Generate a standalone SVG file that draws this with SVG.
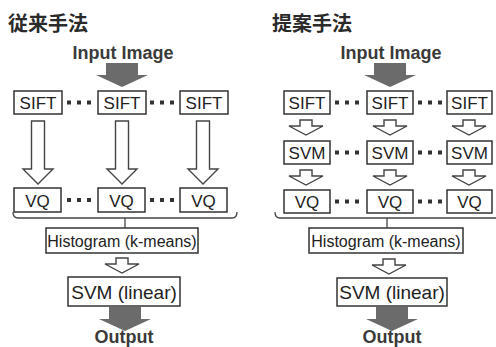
<svg xmlns="http://www.w3.org/2000/svg" width="496" height="347" viewBox="0 0 496 347">
<style>
.box{fill:#fff;stroke:#333;stroke-width:1.5}
.t{font-family:"Liberation Sans",Arial,sans-serif;font-size:17px;fill:#222;text-anchor:middle}
.th{font-family:"Liberation Sans",Arial,sans-serif;font-size:16px;fill:#222;text-anchor:middle}
.tl{font-family:"Liberation Sans",Arial,sans-serif;font-size:19px;fill:#222;text-anchor:middle}
.b{font-family:"Liberation Sans",Arial,sans-serif;font-size:18px;font-weight:bold;fill:#3a3a3a;text-anchor:middle}
.title{font-family:"Noto Sans CJK JP","Noto Sans CJK SC",sans-serif;font-size:20px;font-weight:bold;fill:#2a2a2a}
.dot{fill:#333}
.hollow{fill:#fff;stroke:#444;stroke-width:1.4;stroke-linejoin:miter}
.solid{fill:#6b6b6b}
.brace{fill:none;stroke:#444;stroke-width:1.3}
</style>
<defs>
<polygon id="bigHollow" points="-6.5,0 6.5,0 6.5,48 15,48 0,63 -15,48 -6.5,48"/>
<polygon id="smallHollow" points="-6,0 6,0 6,6 17,6 0,15 -17,6 -6,6"/>
<polygon id="grayArrow" points="-16,0 16,0 16,12 26,12 0,24 -26,12 -16,12"/>
<g id="dots"><rect x="0" y="-2" width="4" height="4"/><rect x="10" y="-2" width="4" height="4"/><rect x="20" y="-2" width="4" height="4"/></g>
</defs>

<!-- Titles -->
<text class="title" x="8" y="31">従来手法</text>
<text class="title" x="272" y="31">提案手法</text>

<!-- ===== Left panel: conventional ===== -->
<g id="left-input"><text class="b" x="123" y="59">Input Image</text></g>
<g id="left-sift1"><rect class="box" x="14" y="91" width="48" height="23"/><text class="t" x="38" y="108.5">SIFT</text></g>
<g id="left-sift2"><rect class="box" x="98" y="91" width="48" height="23"/><text class="t" x="122" y="108.5">SIFT</text></g>
<g id="left-sift3"><rect class="box" x="180" y="91" width="48" height="23"/><text class="t" x="204" y="108.5">SIFT</text></g>
<g id="left-vq1"><rect class="box" x="14" y="188" width="47" height="24"/><text class="t" x="37.5" y="206.5">VQ</text></g>
<g id="left-vq2"><rect class="box" x="98" y="188" width="47" height="24"/><text class="t" x="121.5" y="206.5">VQ</text></g>
<g id="left-vq3"><rect class="box" x="180" y="188" width="47" height="24"/><text class="t" x="203.5" y="206.5">VQ</text></g>
<g id="left-hist"><rect class="box" x="46" y="228" width="152" height="25"/><text class="th" x="122" y="246.5">Histogram (k-means)</text></g>
<g id="left-svm"><rect class="box" x="68" y="277" width="112" height="29"/><text class="tl" x="124" y="298.5">SVM (linear)</text></g>
<g id="left-output"><text class="b" x="124" y="343">Output</text></g>

<!-- ===== Right panel: proposed ===== -->
<g id="right-input"><text class="b" x="391" y="59">Input Image</text></g>
<g id="right-sift1"><rect class="box" x="284" y="91" width="46" height="23"/><text class="t" x="307" y="108.5">SIFT</text></g>
<g id="right-sift2"><rect class="box" x="367" y="91" width="46" height="23"/><text class="t" x="390" y="108.5">SIFT</text></g>
<g id="right-sift3"><rect class="box" x="447" y="91" width="45" height="23"/><text class="t" x="469.5" y="108.5">SIFT</text></g>
<g id="right-svm1"><rect class="box" x="284" y="141" width="46" height="23"/><text class="t" x="307" y="158.5">SVM</text></g>
<g id="right-svm2"><rect class="box" x="367" y="141" width="46" height="23"/><text class="t" x="390" y="158.5">SVM</text></g>
<g id="right-svm3"><rect class="box" x="447" y="141" width="45" height="23"/><text class="t" x="469.5" y="158.5">SVM</text></g>
<g id="right-vq1"><rect class="box" x="284" y="190" width="46" height="23"/><text class="t" x="307" y="207.5">VQ</text></g>
<g id="right-vq2"><rect class="box" x="367" y="190" width="46" height="23"/><text class="t" x="390" y="207.5">VQ</text></g>
<g id="right-vq3"><rect class="box" x="447" y="190" width="45" height="23"/><text class="t" x="469.5" y="207.5">VQ</text></g>
<g id="right-hist"><rect class="box" x="309" y="228" width="154" height="25"/><text class="th" x="386" y="246.5">Histogram (k-means)</text></g>
<g id="right-svm"><rect class="box" x="337" y="278" width="110" height="28"/><text class="tl" x="392" y="299">SVM (linear)</text></g>
<g id="right-output"><text class="b" x="392" y="343">Output</text></g>

<!-- ===== Connectors ===== -->
<g id="connectors">
  <use href="#grayArrow" class="solid" transform="translate(122,63)"/>
  <use href="#grayArrow" class="solid" transform="translate(125,307)"/>
  <use href="#grayArrow" class="solid" transform="translate(390,63)"/>
  <use href="#grayArrow" class="solid" transform="translate(392,307)"/>

  <use href="#bigHollow" class="hollow" transform="translate(38,121)"/>
  <use href="#bigHollow" class="hollow" transform="translate(122,121)"/>
  <use href="#bigHollow" class="hollow" transform="translate(203,121)"/>

  <use href="#smallHollow" class="hollow" transform="translate(306,120)"/>
  <use href="#smallHollow" class="hollow" transform="translate(390,120)"/>
  <use href="#smallHollow" class="hollow" transform="translate(469,120)"/>
  <use href="#smallHollow" class="hollow" transform="translate(306,170)"/>
  <use href="#smallHollow" class="hollow" transform="translate(390,170)"/>
  <use href="#smallHollow" class="hollow" transform="translate(469,170)"/>

  <use href="#smallHollow" class="hollow" transform="translate(122,258)"/>
  <use href="#smallHollow" class="hollow" transform="translate(389,259)"/>

  <use href="#dots" class="dot" transform="translate(67,102.5)"/>
  <use href="#dots" class="dot" transform="translate(150,102.5)"/>
  <use href="#dots" class="dot" transform="translate(67,200)"/>
  <use href="#dots" class="dot" transform="translate(150,200)"/>
  <use href="#dots" class="dot" transform="translate(335,102.5)"/>
  <use href="#dots" class="dot" transform="translate(418,102.5)"/>
  <use href="#dots" class="dot" transform="translate(335,152.5)"/>
  <use href="#dots" class="dot" transform="translate(418,152.5)"/>
  <use href="#dots" class="dot" transform="translate(335,201.5)"/>
  <use href="#dots" class="dot" transform="translate(418,201.5)"/>

  <path class="brace" d="M13,212 Q13,218 18,218 H232 Q237,218 237,212 M125,218 V228"/>
  <path class="brace" d="M275,212 Q275,218 280,218 H496 M387,218 V228"/>
</g>
</svg>
